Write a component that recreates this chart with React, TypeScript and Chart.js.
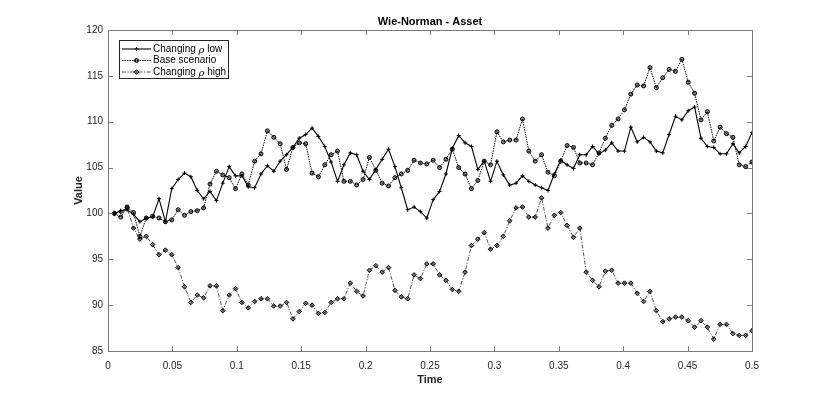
import { useEffect, useRef } from "react";
import { Chart, registerables } from "chart.js";

Chart.register(...registerables);

const CHART_TITLE = "Wie-Norman - Asset";
const X_TITLE = "Time";
const Y_TITLE = "Value";

const STEP_COUNT = 101;
const T_END = 0.5;
// time grid of the simulation (categories)
const times: number[] = Array.from({ length: STEP_COUNT }, (_, i) => ((i + 1) * T_END) / STEP_COUNT);

const xTickValues = [0, 0.05, 0.1, 0.15, 0.2, 0.25, 0.3, 0.35, 0.4, 0.45, 0.5];
const yTickValues = [85, 90, 95, 100, 105, 110, 115, 120];

const seriesLabels = ["Changing ρ low", "Base scenario", "Changing ρ high"];

const lowRho = [
  100.0, 100.3, 100.4, 99.9, 99.1, 99.5, 99.6, 101.6, 99.1, 102.7,
  103.7, 104.4, 104.0, 102.5, 101.6, 102.4, 101.4, 103.3, 105.1, 104.1,
  104.1, 102.9, 102.8, 104.3, 105.2, 104.6, 105.7, 106.4, 107.2, 108.2,
  108.6, 109.3, 108.4, 107.3, 105.6, 103.5, 105.3, 106.6, 106.4, 104.6,
  103.7, 104.8, 105.9, 107.0, 105.1, 102.8, 100.4, 100.7, 100.2, 99.5,
  101.5, 102.4, 104.3, 107.1, 108.5, 107.7, 107.3, 104.8, 105.7, 103.5,
  105.7, 104.2, 103.1, 103.3, 104.1, 103.5, 103.1, 102.8, 102.5, 104.3,
  105.8, 105.3, 104.9, 106.4, 106.4, 107.3, 106.5, 106.9, 107.7, 106.8,
  106.8, 109.4, 107.8, 108.3, 107.8, 106.8, 106.6, 108.6, 110.6, 110.2,
  111.2, 111.6, 108.2, 107.3, 107.2, 106.5, 106.5, 107.6, 106.6, 107.3,
  108.8,
];

const baseScenario = [
  100.0, 99.6, 100.7, 100.1, 97.5, 99.5, 99.7, 99.5, 99.1, 99.3,
  100.4, 99.8, 100.2, 100.3, 100.6, 103.2, 104.6, 104.2, 103.9, 102.7,
  104.3, 103.1, 105.7, 106.5, 109.0, 108.3, 107.6, 104.8, 107.2, 107.7,
  107.6, 104.4, 104.0, 105.3, 106.4, 106.8, 103.5, 103.5, 103.1, 103.7,
  106.1, 104.7, 103.3, 103.0, 103.9, 104.3, 104.7, 105.8, 105.5, 105.4,
  105.8, 105.0, 105.9, 107.0, 105.0, 104.3, 102.7, 103.6, 105.7, 105.3,
  108.9, 107.8, 108.0, 108.0, 110.3, 106.8, 105.7, 106.4, 104.5, 104.1,
  105.7, 107.4, 107.2, 105.5, 105.5, 105.3, 106.6, 108.2, 109.6, 110.3,
  111.3, 113.0, 114.0, 113.9, 115.9, 113.7, 114.8, 115.7, 115.5, 116.8,
  114.3, 113.1, 110.2, 111.1, 107.9, 109.4, 108.7, 108.3, 105.3, 105.1,
  105.6,
];

const highRho = [
  100.0, 100.2, 100.6, 98.4, 97.2, 97.5, 96.6, 95.5, 96.0, 95.5,
  94.1, 92.0, 90.3, 91.1, 90.8, 92.1, 92.1, 89.4, 91.1, 91.8,
  90.3, 89.7, 90.4, 90.7, 90.7, 89.9, 89.9, 90.3, 88.5, 89.3,
  90.2, 90.0, 89.1, 89.2, 90.3, 90.7, 90.7, 92.4, 91.5, 91.0,
  93.8, 94.3, 93.6, 94.1, 91.6, 90.9, 90.7, 93.3, 92.9, 94.5,
  94.5, 93.3, 92.7, 91.7, 91.5, 93.6, 96.5, 97.2, 97.9, 96.1,
  96.5, 97.5, 99.2, 100.6, 100.7, 99.6, 99.6, 101.7, 98.4, 99.8,
  100.1, 98.7, 97.4, 98.4, 93.6, 92.7, 92.0, 93.7, 93.8, 92.4,
  92.4, 92.4, 91.3, 90.4, 91.5, 89.4, 88.2, 88.5, 88.7, 88.7,
  88.3, 87.6, 88.3, 87.6, 86.3, 87.9, 87.9, 86.9, 86.7, 86.7,
  87.2,
];

const FONT = "'Liberation Sans', Arial, Helvetica, sans-serif";
const AXIS_COLOR = "#7a7a7a";
const TEXT_COLOR = "#262626";

type Sty = { line: string; dash: number[]; width: number; marker: string; r: number; fill: string };
const styles: Sty[] = [
  { line: "#000000", dash: [], width: 1.1, marker: "cross", r: 2, fill: "#000" },
  { line: "#000000", dash: [1.5, 1], width: 1, marker: "circle", r: 2, fill: "rgba(0,0,0,0.45)" },
  { line: "#555555", dash: [4, 1.5, 1.2, 1.5], width: 1, marker: "rectRot", r: 2.3, fill: "rgba(0,0,0,0.5)" },
];

function drawMarker(ctx: CanvasRenderingContext2D, kind: string, x: number, y: number, r: number, fill: string) {
  ctx.beginPath();
  ctx.setLineDash([]);
  ctx.fillStyle = fill;
  if (kind === "cross") {
    ctx.moveTo(x - r, y);
    ctx.lineTo(x + r, y);
    ctx.moveTo(x, y - r);
    ctx.lineTo(x, y + r);
    ctx.stroke();
  } else if (kind === "circle") {
    ctx.arc(x, y, r, 0, Math.PI * 2);
    ctx.fill();
    ctx.stroke();
  } else {
    ctx.moveTo(x, y - r);
    ctx.lineTo(x + r, y);
    ctx.lineTo(x, y + r);
    ctx.lineTo(x - r, y);
    ctx.closePath();
    ctx.fill();
    ctx.stroke();
  }
}

const decorPlugin = {
  id: "matlabDecor",
  afterDraw(chart: any) {
    const ctx: CanvasRenderingContext2D = chart.ctx;
    const { left, right, top, bottom } = chart.chartArea;
    const xs = chart.scales.x;
    const ys = chart.scales.y;
    ctx.save();
    // axes box
    ctx.strokeStyle = AXIS_COLOR;
    ctx.lineWidth = 1;
    ctx.setLineDash([]);
    ctx.strokeRect(Math.round(left) + 0.5, Math.round(top) + 0.5, Math.round(right - left), Math.round(bottom - top));
    // inward ticks
    const tl = 5;
    ctx.beginPath();
    xTickValues.forEach((v) => {
      const px = Math.round(xs.getPixelForValue(v)) + 0.5;
      ctx.moveTo(px, bottom);
      ctx.lineTo(px, bottom - tl);
      ctx.moveTo(px, top);
      ctx.lineTo(px, top + tl);
    });
    yTickValues.forEach((v) => {
      const py = Math.round(ys.getPixelForValue(v)) + 0.5;
      ctx.moveTo(left, py);
      ctx.lineTo(left + tl, py);
      ctx.moveTo(right, py);
      ctx.lineTo(right - tl, py);
    });
    ctx.stroke();

    // titles
    ctx.fillStyle = "#000";
    ctx.font = `bold 11px ${FONT}`;
    ctx.textAlign = "center";
    ctx.textBaseline = "middle";
    ctx.fillText(CHART_TITLE, (left + right) / 2, 22);
    ctx.fillStyle = TEXT_COLOR;
    ctx.fillText(X_TITLE, (left + right) / 2, 380);
    ctx.save();
    ctx.translate(79, (top + bottom) / 2);
    ctx.rotate(-Math.PI / 2);
    ctx.fillText(Y_TITLE, 0, 0);
    ctx.restore();

    // legend
    const bx = 119.5, by = 40.5, bw = 109, bh = 38;
    ctx.fillStyle = "#fff";
    ctx.fillRect(bx, by, bw, bh);
    ctx.strokeStyle = TEXT_COLOR;
    ctx.lineWidth = 1;
    ctx.strokeRect(bx, by, bw, bh);
    const rows = [49, 60.5, 72];
    seriesLabels.forEach((label, i) => {
      const s = styles[i];
      const y = rows[i];
      ctx.strokeStyle = s.line;
      ctx.lineWidth = s.width;
      ctx.setLineDash(s.dash);
      ctx.beginPath();
      ctx.moveTo(122, y);
      ctx.lineTo(151, y);
      ctx.stroke();
      ctx.strokeStyle = "#000";
      ctx.lineWidth = 1;
      drawMarker(ctx, s.marker, 136.5, y, s.r, s.fill);
      // text with italic rho
      ctx.fillStyle = "#000";
      ctx.textAlign = "left";
      ctx.textBaseline = "middle";
      let x = 153;
      const parts = label.split("ρ");
      ctx.font = `10px ${FONT}`;
      ctx.fillText(parts[0], x, y);
      x += ctx.measureText(parts[0]).width;
      if (parts.length > 1) {
        ctx.font = `italic 10px 'DejaVu Serif', serif`;
        ctx.fillText("ρ", x, y + 1);
        x += ctx.measureText("ρ").width;
        ctx.font = `10px ${FONT}`;
        ctx.fillText(parts[1], x, y);
      }
    });
    ctx.restore();
  },
};

export default function App() {
  const ref = useRef<HTMLCanvasElement | null>(null);

  useEffect(() => {
    if (!ref.current) return;
    const mk = (vals: number[]) => times.map((t, i) => ({ x: t, y: vals[i] }));
    const all = [lowRho, baseScenario, highRho];
    const chart = new Chart(ref.current, {
      type: "line",
      data: {
        datasets: all.map((vals, i) => ({
          label: seriesLabels[i],
          data: mk(vals),
          borderColor: styles[i].line,
          borderWidth: styles[i].width,
          borderDash: styles[i].dash,
          pointStyle: styles[i].marker as any,
          pointRadius: styles[i].r,
          pointBorderColor: "#000",
          pointBackgroundColor: styles[i].fill,
          pointBorderWidth: 1,
          tension: 0,
          fill: false,
        })),
      },
      options: {
        animation: false,
        responsive: false,
        devicePixelRatio: 1,
        layout: { padding: { left: 0, right: 78, top: 30, bottom: 0 } },
        plugins: {
          legend: { display: false },
          title: { display: false },
          tooltip: { enabled: false },
        },
        scales: {
          x: {
            type: "linear",
            min: 0,
            max: 0.5,
            afterFit: (s: any) => {
              s.height = 45;
            },
            afterBuildTicks: (s: any) => {
              s.ticks = xTickValues.map((v) => ({ value: v }));
            },
            grid: { display: false, drawTicks: false },
            border: { display: false },
            ticks: {
              padding: 9,
              color: TEXT_COLOR,
              font: { family: FONT, size: 10 },
              maxRotation: 0,
              autoSkip: false,
              callback: (v: any) => String(Math.round(Number(v) * 100) / 100),
            },
          },
          y: {
            type: "linear",
            min: 85,
            max: 120,
            afterFit: (s: any) => {
              s.width = 108;
            },
            afterBuildTicks: (s: any) => {
              s.ticks = yTickValues.map((v) => ({ value: v }));
            },
            grid: { display: false, drawTicks: false },
            border: { display: false },
            ticks: {
              padding: 5,
              color: TEXT_COLOR,
              font: { family: FONT, size: 10 },
              autoSkip: false,
              callback: (v: any) => String(v),
            },
          },
        },
      },
      plugins: [decorPlugin],
    });
    return () => chart.destroy();
  }, []);

  return (
    <div style={{ position: "fixed", left: 0, top: 0, width: 830, height: 396, background: "#fff" }}>
      <canvas ref={ref} width={830} height={396} style={{ display: "block" }} />
    </div>
  );
}
